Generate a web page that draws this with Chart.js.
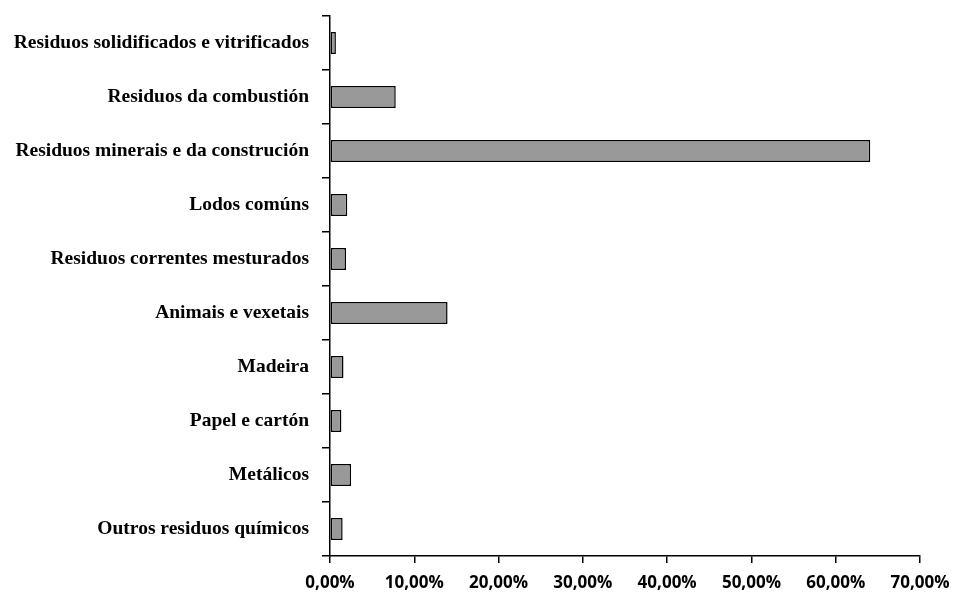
<!DOCTYPE html>
<html>
<head>
<meta charset="utf-8">
<script src="https://cdn.jsdelivr.net/npm/chart.js@4/dist/chart.umd.min.js"></script>
<style>
  html, body { margin: 0; padding: 0; background: #ffffff; }
  #wrap { width: 957px; height: 595px; position: relative; }
</style>
</head>
<body>
<div id="wrap"><canvas id="chart" width="957" height="595"></canvas></div>
<script>
// Waste categories (top to bottom) and their share of the total, in %
const categories = [
  "Residuos solidificados e vitrificados",
  "Residuos da combustión",
  "Residuos minerais e da construción",
  "Lodos comúns",
  "Residuos correntes mesturados",
  "Animais e vexetais",
  "Madeira",
  "Papel e cartón",
  "Metálicos",
  "Outros residuos químicos"
];
const shares = [0.7, 7.8, 64.1, 2.05, 1.9, 13.95, 1.6, 1.35, 2.5, 1.5];
const axisMax = 70;
const axisStep = 10;

const formatPct = v => v.toFixed(2).replace('.', ',') + '%';

new Chart(document.getElementById('chart'), {
  type: 'bar',
  data: {
    labels: categories,
    datasets: [{
      data: shares,
      backgroundColor: '#999999',
      borderColor: '#000000',
      borderWidth: 1.5,
      borderSkipped: false,
      categoryPercentage: 1,
      barPercentage: 0.41
    }]
  },
  options: {
    indexAxis: 'y',
    responsive: false,
    animation: false,
    layout: { padding: { top: 16, right: 37, left: 0, bottom: 0 } },
    plugins: { legend: { display: false }, tooltip: { enabled: false } },
    scales: {
      x: {
        min: 0,
        max: axisMax,
        ticks: {
          stepSize: axisStep,
          callback: v => formatPct(v),
          color: '#000000',
          font: { family: 'Open Sans', weight: 700, size: 17 },
          padding: 10,
          maxRotation: 0
        },
        grid: { drawOnChartArea: false, tickLength: 7, color: '#000000', lineWidth: 1.5 },
        border: { display: true, color: '#000000', width: 1.5 },
        afterFit: s => { s.height = 39; s.paddingRight = 0; s.paddingLeft = 0; }
      },
      y: {
        ticks: {
          color: '#000000',
          font: { family: 'Liberation Serif', weight: 'bold', size: 19.5 },
          padding: 13,
          autoSkip: false
        },
        grid: { offset: true, drawOnChartArea: false, tickLength: 8, color: '#000000', lineWidth: 1.5 },
        border: { display: true, color: '#000000', width: 1.5 },
        afterFit: s => { s.width = 330; s.paddingTop = 0; s.paddingBottom = 0; }
      }
    }
  }
});
</script>
</body>
</html>
